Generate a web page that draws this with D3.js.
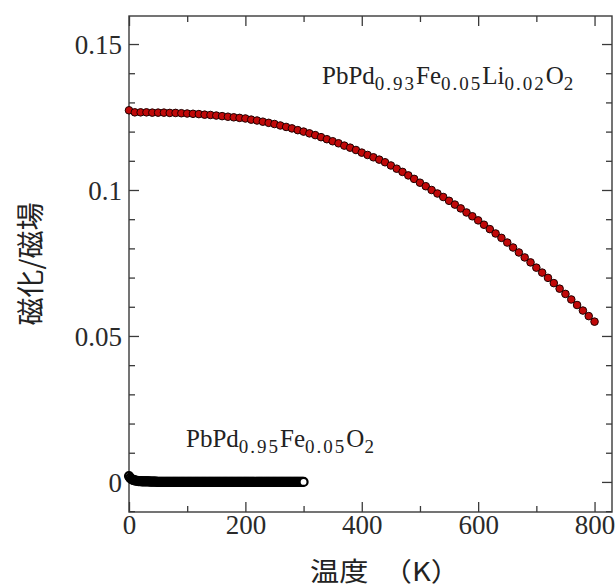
<!DOCTYPE html>
<html>
<head>
<meta charset="utf-8">
<script src="https://cdn.jsdelivr.net/npm/d3@7"></script>
<style>
  body { margin: 0; background: #fff; }
</style>
</head>
<body>
<svg width="616" height="588"></svg>
<script>
// temperature grid (K) for each series
var tempLi = d3.range(0, 801, 10);
var tempFe = d3.range(0, 301, 2);

// PbPd0.93Fe0.05Li0.02O2 : magnetization / field, read every 10 K
var magLi = [
  0.1273, 0.1266, 0.1266, 0.1266, 0.1265, 0.1265, 0.1265, 0.1264, 0.1264, 0.1263,
  0.1262, 0.1261, 0.1260, 0.1258, 0.1257, 0.1255, 0.1253, 0.1251, 0.1249, 0.1247,
  0.1245, 0.1241, 0.1238, 0.1234, 0.1230, 0.1226, 0.1221, 0.1216, 0.1211, 0.1205,
  0.1200, 0.1194, 0.1188, 0.1181, 0.1174, 0.1167, 0.1160, 0.1152, 0.1145, 0.1137,
  0.1128, 0.1120, 0.1112, 0.1104, 0.1095, 0.1084, 0.1073, 0.1062, 0.1050, 0.1038,
  0.1025, 0.1013, 0.1000, 0.0988, 0.0976, 0.0963, 0.0950, 0.0937, 0.0923, 0.0910,
  0.0896, 0.0881, 0.0866, 0.0851, 0.0836, 0.0820, 0.0803, 0.0786, 0.0769, 0.0752,
  0.0734, 0.0717, 0.0699, 0.0681, 0.0662, 0.0644, 0.0625, 0.0606, 0.0587, 0.0568,
  0.0549
];

// PbPd0.95Fe0.05O2 : read every 2 K, 0 - 300 K
var magFe = [
  0.0020, 0.0014, 0.0010, 0.0008, 0.0006, 0.0005, 0.0004, 0.0004, 0.0003, 0.0003,
  0.0003, 0.0002, 0.0002, 0.0002, 0.0002, 0.0002, 0.0002, 0.0002, 0.0001, 0.0001,
  0.0001, 0.0001, 0.0001, 0.0001, 0, 0, 0, 0, 0, 0,
  0, 0, 0, 0, 0, 0, 0, 0, 0, 0,
  0, 0, 0, 0, 0, 0, 0, 0, 0, 0,
  0, 0, 0, 0, 0, 0, 0, 0, 0, 0,
  0, 0, 0, 0, 0, 0, 0, 0, 0, 0,
  0, 0, 0, 0, 0, 0, 0, 0, 0, 0,
  0, 0, 0, 0, 0, 0, 0, 0, 0, 0,
  0, 0, 0, 0, 0, 0, 0, 0, 0, 0,
  0, 0, 0, 0, 0, 0, 0, 0, 0, 0,
  0, 0, 0, 0, 0, 0, 0, 0, 0, 0,
  0, 0, 0, 0, 0, 0, 0, 0, 0, 0,
  0, 0, 0, 0, 0, 0, 0, 0, 0, 0,
  0, 0, 0, 0, 0, 0, 0, 0, 0, 0,
  0
];

var xTicks = [0, 200, 400, 600, 800];
var xMinor = [100, 300, 500, 700];
var yTicks = [0, 0.05, 0.1, 0.15];
var yMinor = [-0.01, 0.01, 0.02, 0.03, 0.04, 0.06, 0.07, 0.08, 0.09, 0.11, 0.12, 0.13, 0.14];

var labelLi = [["PbPd", 0], ["0.93", 1], ["Fe", 0], ["0.05", 1], ["Li", 0], ["0.02", 1], ["O", 0], ["2", 1]];
var labelFe = [["PbPd", 0], ["0.95", 1], ["Fe", 0], ["0.05", 1], ["O", 0], ["2", 1]];

var serif = "'Liberation Serif', 'Times New Roman', serif";
var cjk = "'Noto Sans CJK JP', sans-serif";

var svg = d3.select("svg");

var margin = {top: 16, right: 4, bottom: 76, left: 129},
    width = +svg.attr("width") - margin.left - margin.right,
    height = +svg.attr("height") - margin.top - margin.bottom;

var g = svg.append("g")
    .attr("transform", "translate(" + margin.left + "," + margin.top + ")");

var x = d3.scaleLinear()
    .domain([0, 830])
    .range([0, width]);

var y = d3.scaleLinear()
    .domain([-0.0103, 0.1596])
    .range([height, 0]);

var axisColor = "#3a3a3a";

function styleAxis(sel) {
  sel.attr("font-family", null).attr("font-size", null);
  sel.select(".domain").remove();
  sel.selectAll(".tick line").attr("stroke", axisColor).attr("stroke-width", 1.3);
  sel.selectAll(".tick text")
      .attr("fill", "#2a2a2a")
      .style("font-family", serif)
      .style("font-size", "27px");
}

// major + minor ticks on all four sides, pointing inward
g.append("g")
    .attr("transform", "translate(0," + height + ")")
    .call(d3.axisBottom(x).tickValues(xTicks).tickSize(-10).tickPadding(3).tickFormat(d3.format("d")))
    .call(styleAxis);

g.append("g")
    .attr("transform", "translate(0," + height + ")")
    .call(d3.axisBottom(x).tickValues(xMinor).tickSize(-6).tickFormat(""))
    .call(styleAxis);

g.append("g")
    .call(d3.axisTop(x).tickValues(xTicks).tickSize(-10).tickFormat(""))
    .call(styleAxis);

g.append("g")
    .call(d3.axisTop(x).tickValues(xMinor).tickSize(-6).tickFormat(""))
    .call(styleAxis);

g.append("g")
    .call(d3.axisLeft(y).tickValues(yTicks).tickSize(-10).tickPadding(7)
      .tickFormat(function(d) { return d === 0 ? "0" : d3.format("")(d); }))
    .call(styleAxis)
    .selectAll(".tick text").attr("dy", "0.34em");

g.append("g")
    .call(d3.axisLeft(y).tickValues(yMinor).tickSize(-6).tickFormat(""))
    .call(styleAxis);

g.append("g")
    .attr("transform", "translate(" + width + ",0)")
    .call(d3.axisRight(y).tickValues(yTicks).tickSize(-10).tickFormat(""))
    .call(styleAxis);

g.append("g")
    .attr("transform", "translate(" + width + ",0)")
    .call(d3.axisRight(y).tickValues(yMinor).tickSize(-6).tickFormat(""))
    .call(styleAxis);

// frame
g.append("rect")
    .attr("width", width)
    .attr("height", height)
    .attr("fill", "none")
    .attr("stroke", axisColor)
    .attr("stroke-width", 1.4);

// data
var ptsLi = tempLi.map(function(t, i) { return {t: t, v: magLi[i]}; });
var ptsFe = tempFe.map(function(t, i) { return {t: t, v: magFe[i]}; });

g.append("g").selectAll("circle")
    .data(ptsFe)
  .enter().append("circle")
    .attr("cx", function(d) { return x(d.t); })
    .attr("cy", function(d) { return y(d.v); })
    .attr("r", 4)
    .attr("fill", "#fff")
    .attr("stroke", "#000")
    .attr("stroke-width", 2.2);

g.append("g").selectAll("circle")
    .data(ptsLi)
  .enter().append("circle")
    .attr("cx", function(d) { return x(d.t); })
    .attr("cy", function(d) { return y(d.v); })
    .attr("r", 3.8)
    .attr("fill", "#c00808")
    .attr("stroke", "#1e0000")
    .attr("stroke-width", 1);

// formula labels with subscripts
function formula(parts, px, py) {
  var t = svg.append("text")
      .attr("x", px)
      .attr("y", py)
      .attr("fill", "#222")
      .style("font-family", serif);
  var shift = 0;
  parts.forEach(function(p) {
    var sub = p[1] === 1;
    var dy = sub ? 6 - shift : -shift;
    shift = sub ? 6 : 0;
    t.append("tspan")
        .attr("dy", dy)
        .style("font-size", sub ? "19px" : "25px")
        .style("letter-spacing", sub ? "2px" : "0px")
        .text(p[0]);
  });
}

formula(labelLi, 322, 84);
formula(labelFe, 186, 447);

// axis titles
svg.append("text")
    .attr("x", 310)
    .attr("y", 581)
    .attr("textLength", 150)
    .attr("lengthAdjust", "spacingAndGlyphs")
    .attr("fill", "#222")
    .style("font-family", cjk)
    .style("font-size", "26px")
    .text("温度　（K）");

svg.append("text")
    .attr("transform", "translate(41,264) rotate(-90)")
    .attr("text-anchor", "middle")
    .attr("fill", "#222")
    .style("font-family", cjk)
    .style("font-size", "28px")
    .text("磁化/磁場");
</script>
</body>
</html>
